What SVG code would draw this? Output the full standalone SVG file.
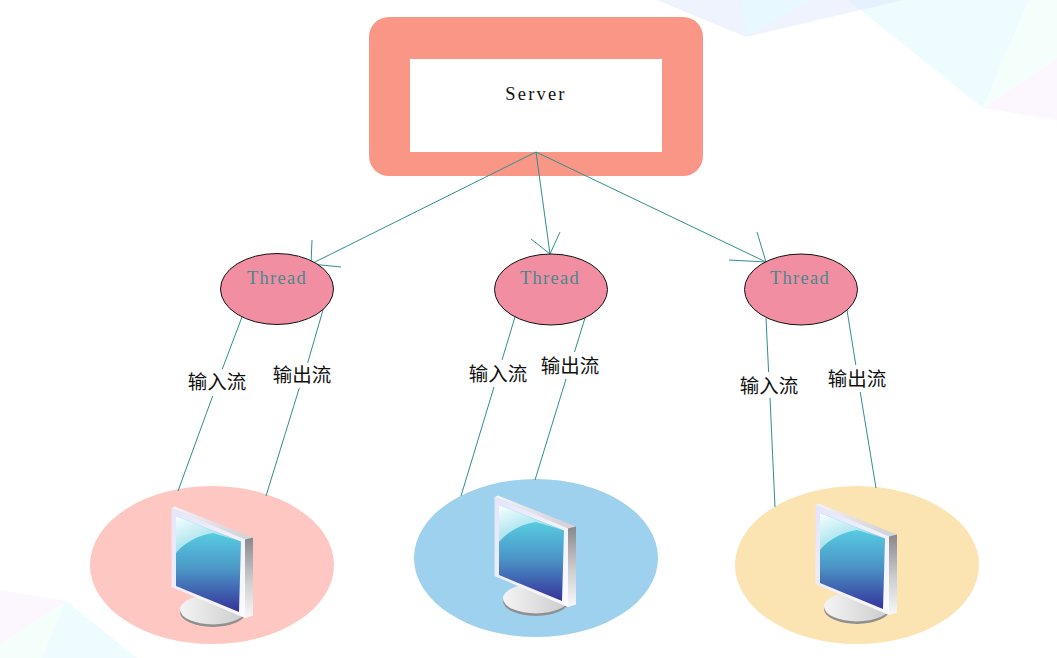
<svg xmlns="http://www.w3.org/2000/svg" xmlns:xlink="http://www.w3.org/1999/xlink" width="1057" height="658" viewBox="0 0 1057 658">
<style>
.thread{fill:#f28ea1;stroke:#111;stroke-width:1}
.tt{font-family:"Liberation Serif",serif;font-size:18.5px;letter-spacing:1.3px;fill:#4b8790;text-anchor:middle}
.lb{font-family:"Noto Sans CJK SC",sans-serif;font-size:19.5px;fill:#111;text-anchor:middle}
.cn{fill:none;stroke:#2f8f8c;stroke-width:1}
</style>
<defs>
<linearGradient id="scr" gradientUnits="userSpaceOnUse" x1="0" y1="530" x2="0" y2="610"><stop offset="0" stop-color="#58d0e4"/><stop offset="0.5" stop-color="#4b94c6"/><stop offset="1" stop-color="#36379c"/></linearGradient>
<linearGradient id="gloss" gradientUnits="userSpaceOnUse" x1="180" y1="518" x2="195" y2="555"><stop offset="0" stop-color="#effdfe"/><stop offset="1" stop-color="#92dae8"/></linearGradient>
<linearGradient id="side" x1="0" y1="0" x2="0" y2="1"><stop offset="0" stop-color="#88888c"/><stop offset="0.55" stop-color="#cfcfd2"/><stop offset="1" stop-color="#f8f8fa"/></linearGradient>
<linearGradient id="stand" x1="0" y1="0" x2="1" y2="0"><stop offset="0" stop-color="#f4f4f4"/><stop offset="1" stop-color="#cbcbcb"/></linearGradient>
<linearGradient id="top" x1="0" y1="0" x2="1" y2="0.4"><stop offset="0" stop-color="#f3f3f8"/><stop offset="1" stop-color="#d4d4d9"/></linearGradient>
<linearGradient id="bez" x1="0" y1="0" x2="1" y2="1"><stop offset="0" stop-color="#e6e4fb"/><stop offset="1" stop-color="#fafaff"/></linearGradient>
<g id="monitor">
<ellipse cx="213" cy="612" rx="33" ry="15" fill="#8f8f8f"/>
<ellipse cx="213" cy="609.500" rx="33" ry="15" fill="url(#stand)"/>
<path d="M171.500 508L175 506.500L253 537.500L245 540Z" fill="url(#top)"/>
<path d="M171.500 508L245 539.500V618L171.500 587Z" fill="url(#bez)"/>
<path d="M245 539.500L253 537.500V615.500L245 618Z" fill="url(#side)"/>
<path d="M176 516L241 541.500L239 612L176 586Z" fill="url(#scr)"/>
<path d="M176 516L241 541.500L213 533C200 535 186 541 176 553Z" fill="url(#gloss)"/>
</g>
</defs>
<g id="background">
<polygon points="848,0 983,108 1029,0" fill="#eefbff"/>
<polygon points="657,0 746,37 903,0" fill="#eef3fe"/>
<polygon points="741,0 746,37 810,0" fill="#e8f8ff"/>
<polygon points="848,0 903,0 860.500,10" fill="#e6f1fe"/>
<polygon points="1029,0 983,108 1057,58 1057,0" fill="#f4fffc"/>
<polygon points="983,108 1057,58 1057,120" fill="#fcf7fe"/>
<polygon points="66,601 0,590 0,645" fill="#fcf7fe"/>
<polygon points="66,601 0,645 0,658 42,658" fill="#f4fffc"/>
<polygon points="66,601 42,658 137,658" fill="#eefbff"/>
</g>
<g id="server">
<rect x="369" y="17" width="334" height="159" rx="20" fill="#f99685"/>
<rect x="410" y="59" width="252" height="93" fill="#fff"/>
<text x="536" y="100" font-family="'Liberation Serif',serif" font-size="18.500" letter-spacing="2.200" fill="#111" text-anchor="middle">Server</text>
</g>
<g id="client1"><ellipse cx="212" cy="565" rx="122" ry="79" fill="#ffc7c2"/><use xlink:href="#monitor" href="#monitor"/></g>
<g id="client2"><ellipse cx="536" cy="558" rx="122" ry="79" fill="#9dd1ee"/><use xlink:href="#monitor" href="#monitor" transform="translate(323,-11)"/></g>
<g id="client3"><ellipse cx="857" cy="565" rx="122" ry="79" fill="#fbe3b2"/><use xlink:href="#monitor" href="#monitor" transform="translate(644,-3)"/></g>
<g id="connectors" class="cn">
<path d="M536 152L311 264M312 240L311 264L341 267"/>
<path d="M536 152L550 254M531 239L550 254L560 232"/>
<path d="M536 152L766 262M757 232L766 262L729 260"/>
<path d="M242 317L222.300 369M212.700 396L178 491"/>
<path d="M323 310L307.700 362.700M299.300 388L266 496"/>
<path d="M515 317L502 360M494 387L461 496"/>
<path d="M585 318L574.500 352M566 379L535 480"/>
<path d="M766 318L768.600 372M770 398L775 507"/>
<path d="M847 310L855.800 365M860.200 392L876 488"/>
</g>
<g id="thread1"><ellipse class="thread" cx="277" cy="289" rx="56.500" ry="35.500"/><text class="tt" x="277" y="284">Thread</text></g>
<g id="thread2"><ellipse class="thread" cx="551" cy="289.500" rx="56.500" ry="35.500"/><text class="tt" x="550" y="284">Thread</text></g>
<g id="thread3"><ellipse class="thread" cx="801" cy="289.500" rx="56.500" ry="35.500"/><text class="tt" x="800" y="284">Thread</text></g>
<g id="labels">
<text class="lb" x="217" y="389">输入流</text>
<text class="lb" x="302" y="382">输出流</text>
<text class="lb" x="498" y="381">输入流</text>
<text class="lb" x="570" y="373">输出流</text>
<text class="lb" x="769" y="393">输入流</text>
<text class="lb" x="857" y="386">输出流</text>
</g>
</svg>
